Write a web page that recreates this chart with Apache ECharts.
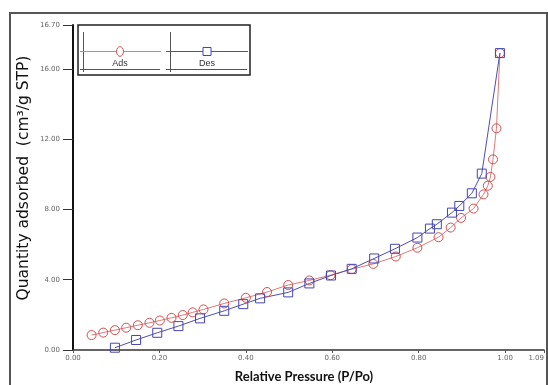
<!DOCTYPE html>
<html>
<head>
<meta charset="utf-8">
<script src="https://cdn.jsdelivr.net/npm/echarts@6/dist/echarts.min.js"></script>
<style>html,body{margin:0;padding:0;background:#fff;}#c{width:548px;height:385px;}</style>
</head>
<body>
<div id="c"></div>
<script>
// Adsorption branch
const adsX = [0.043, 0.070, 0.097, 0.123, 0.150, 0.177, 0.201, 0.228, 0.254, 0.277, 0.302,
  0.350, 0.400, 0.449, 0.498, 0.547, 0.596, 0.645, 0.695, 0.747, 0.797, 0.846, 0.874, 0.898,
  0.927, 0.950, 0.960, 0.966, 0.972, 0.980, 0.988];
const adsY = [0.85, 0.99, 1.13, 1.27, 1.41, 1.55, 1.68, 1.83, 1.99, 2.14, 2.31,
  2.65, 2.97, 3.30, 3.70, 3.96, 4.26, 4.60, 4.90, 5.32, 5.82, 6.42, 6.97, 7.52,
  8.05, 8.86, 9.35, 9.85, 10.85, 12.62, 16.90];
// Desorption branch
const desX = [0.097, 0.146, 0.195, 0.244, 0.294, 0.350, 0.394, 0.433, 0.498, 0.547, 0.597,
  0.645, 0.697, 0.745, 0.797, 0.826, 0.842, 0.877, 0.894, 0.923, 0.946, 0.988];
const desY = [0.13, 0.57, 0.98, 1.36, 1.80, 2.23, 2.61, 2.94, 3.28, 3.79, 4.24,
  4.62, 5.21, 5.76, 6.40, 6.91, 7.16, 7.82, 8.20, 8.92, 10.04, 16.90];
const seriesNames = ['Ads', 'Des'];
const yMaxLabel = '16.70';
const xTitle = 'Relative Pressure (P/Po)';
const yTitle = 'Quantity adsorbed  (cm³/g STP)';

const redLine = '#e07a7a', redMark = '#d24f4f';
const blueLine = '#4f4fae', blueMark = '#4646b0';

const chart = echarts.init(document.getElementById('c'), null, {renderer: 'canvas'});
const Y_MAX = 18.5;
chart.setOption({
  animation: false,
  backgroundColor: '#fff',
  grid: {left: 73, right: 4, top: 25, bottom: 35},
  xAxis: {
    type: 'value', min: 0, max: 1.09, interval: 0.2,
    axisLine: {lineStyle: {color: '#333', width: 1.5}},
    axisTick: {show: true, length: 3, lineStyle: {color: '#555'}},
    splitLine: {show: false},
    axisLabel: {fontSize: 7, color: '#666', margin: 5, fontFamily: 'DejaVu Sans',
      alignMaxLabel: 'right',
      formatter: v => v.toFixed(2)}
  },
  yAxis: {
    type: 'value', min: 0, max: Y_MAX, interval: 4,
    axisLine: {show: true, lineStyle: {color: '#111', width: 2}},
    axisTick: {show: true, length: 10, lineStyle: {color: '#333', width: 1}},
    splitLine: {show: false},
    axisLabel: {fontSize: 7, color: '#666', margin: 13, fontFamily: 'DejaVu Sans',
      formatter: v => (Math.abs(v - Y_MAX) < 1e-6 ? yMaxLabel : v.toFixed(2))}
  },
  series: [
    {
      name: seriesNames[0], type: 'line',
      data: adsX.map((x, i) => [x, adsY[i]]),
      symbol: 'circle', symbolSize: 9, showSymbol: true,
      lineStyle: {color: redLine, width: 1},
      itemStyle: {color: 'rgba(255,255,255,0)', borderColor: redMark, borderWidth: 1}
    },
    {
      name: seriesNames[1], type: 'line',
      data: desX.map((x, i) => [x, desY[i]]),
      symbol: 'rect', symbolSize: 9, showSymbol: true,
      lineStyle: {color: blueLine, width: 1},
      itemStyle: {color: 'rgba(255,255,255,0)', borderColor: blueMark, borderWidth: 1}
    }
  ],
  graphic: [
    // outer frame
    {type: 'rect', shape: {x: 10, y: 13, width: 537, height: 400}, style: {fill: 'none', stroke: '#555', lineWidth: 2}, silent: true},
    // legend box
    {type: 'rect', shape: {x: 78, y: 25, width: 172, height: 50}, style: {fill: '#fff', stroke: '#222', lineWidth: 1.5}, z: 10},
    {type: 'line', shape: {x1: 83.5, y1: 32, x2: 83.5, y2: 72}, style: {stroke: '#555', lineWidth: 1}, z: 11},
    {type: 'line', shape: {x1: 80, y1: 69.5, x2: 160, y2: 69.5}, style: {stroke: '#555', lineWidth: 1.2}, z: 11},
    {type: 'line', shape: {x1: 80, y1: 51.5, x2: 161, y2: 51.5}, style: {stroke: redLine, lineWidth: 1}, z: 12},
    {type: 'ellipse', shape: {cx: 120, cy: 51.5, rx: 3.5, ry: 4.8}, style: {fill: '#fff', stroke: redMark, lineWidth: 1}, z: 13},
    {type: 'text', x: 120, y: 64, style: {text: seriesNames[0], fontSize: 9, fill: '#333', fontFamily: 'Liberation Sans Narrow, Liberation Sans', align: 'center', verticalAlign: 'middle'}, z: 13},
    {type: 'line', shape: {x1: 170.5, y1: 32, x2: 170.5, y2: 72}, style: {stroke: '#555', lineWidth: 1}, z: 11},
    {type: 'line', shape: {x1: 166, y1: 69.5, x2: 247, y2: 69.5}, style: {stroke: '#555', lineWidth: 1.2}, z: 11},
    {type: 'line', shape: {x1: 166, y1: 51.5, x2: 248, y2: 51.5}, style: {stroke: blueLine, lineWidth: 1}, z: 12},
    {type: 'rect', shape: {x: 203, y: 47.5, width: 8, height: 8}, style: {fill: '#fff', stroke: blueMark, lineWidth: 1}, z: 13},
    {type: 'text', x: 207, y: 64, style: {text: seriesNames[1], fontSize: 9, fill: '#333', fontFamily: 'Liberation Sans Narrow, Liberation Sans', align: 'center', verticalAlign: 'middle'}, z: 13},
    // axis titles
    {type: 'text', x: 24, y: 178, rotation: Math.PI / 2, style: {text: yTitle, fontSize: 15.5, fill: '#111', fontFamily: 'DejaVu Sans', align: 'center', verticalAlign: 'middle'}},
    {type: 'text', x: 304, y: 377, style: {text: xTitle, fontSize: 13, fontWeight: 'bold', fill: '#111', fontFamily: 'Liberation Sans Narrow, Lato', align: 'center', verticalAlign: 'middle'}}
  ]
});
</script>
</body>
</html>
